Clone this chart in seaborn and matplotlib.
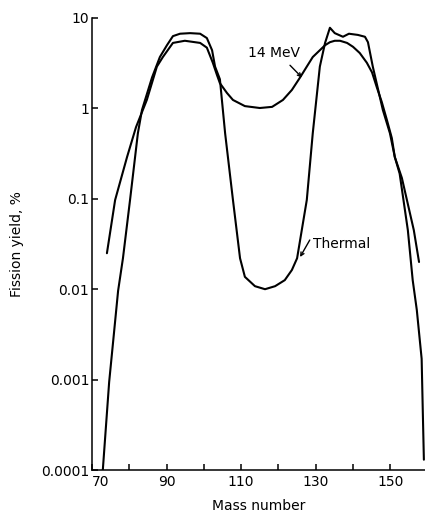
import numpy as np
import pandas as pd
import matplotlib
matplotlib.use("Agg")
import matplotlib.pyplot as plt
import seaborn as sns
from matplotlib.ticker import FixedLocator, FixedFormatter, NullLocator

# ---- data ----
thermal_mass = [72.9, 74.6, 75.9, 77.0, 78.3, 80.2, 82.3, 83.4, 86.1, 88.2, 90.1, 91.7,
                93.6, 96.3, 99.0, 100.8, 102.2, 103.0, 104.3, 105.7, 107.8, 109.7, 111.0,
                113.7, 116.4, 119.1, 121.7, 123.6, 125.0, 127.6, 129.2, 131.1, 132.5,
                133.8, 135.1, 137.3, 138.9, 141.3, 143.2, 144.0, 145.3, 148.0, 149.9,
                151.2, 152.5, 154.7, 156.0, 157.1, 158.4, 158.7, 159.0]
thermal_yield = [0.0001, 0.00094, 0.0033, 0.0096, 0.022, 0.097, 0.53, 0.96, 2.2, 3.7, 5.0, 6.3,
                 6.7, 6.8, 6.7, 6.0, 4.4, 2.9, 2.1, 0.53, 0.097, 0.022, 0.0137,
                 0.0108, 0.0100, 0.0108, 0.0126, 0.0163, 0.022, 0.097, 0.53, 2.9, 5.3,
                 7.8, 6.8, 6.2, 6.7, 6.5, 6.2, 5.4, 2.9, 0.96, 0.53,
                 0.29, 0.19, 0.045, 0.0126, 0.0059, 0.0017, 0.00046, 0.00013]

mev14_mass = [74.0, 76.2, 79.4, 81.8, 84.7, 87.4, 89.0, 91.7, 94.9, 99.0, 100.8, 102.4,
              103.5, 104.3, 106.2, 107.8, 111.0, 115.0, 118.3, 121.2, 123.6, 125.8,
              127.6, 129.2, 131.1, 132.5, 133.8, 135.1, 136.5, 138.4, 140.0, 141.8,
              143.7, 145.1, 146.4, 147.7, 149.1, 150.4, 151.2, 153.1, 156.3, 157.7]
mev14_yield = [0.025, 0.097, 0.29, 0.62, 1.24, 2.9, 3.7, 5.3, 5.6, 5.3, 4.7, 3.2,
               2.35, 1.9, 1.48, 1.24, 1.06, 1.01, 1.04, 1.24, 1.6, 2.2,
               2.9, 3.7, 4.4, 5.0, 5.4, 5.6, 5.6, 5.3, 4.8, 4.1,
               3.2, 2.5, 1.7, 1.18, 0.74, 0.47, 0.29, 0.17, 0.045, 0.020]

x_ticks = [70, 80, 90, 100, 110, 120, 130, 140, 150]
x_tick_labels = ["70", "", "90", "", "110", "", "130", "", "150"]
y_ticks = [0.0001, 0.001, 0.01, 0.1, 1, 10]
y_tick_labels = ["0.0001", "0.001", "0.01", "0.1", "1", "10"]

df = pd.concat([
    pd.DataFrame({"mass": thermal_mass, "yield": thermal_yield, "series": "Thermal"}),
    pd.DataFrame({"mass": mev14_mass, "yield": mev14_yield, "series": "14 MeV"}),
], ignore_index=True)

sns.set_theme(style="ticks")
plt.rcParams["font.family"] = ["DejaVu Sans"]

fig = plt.figure(figsize=(4.25, 5.18), dpi=100)
ax = fig.add_axes([92 / 425, 48 / 518, 333 / 425, 452 / 518])

sns.lineplot(data=df, x="mass", y="yield", hue="series",
             palette={"Thermal": "black", "14 MeV": "black"},
             estimator=None, sort=False, legend=False, linewidth=1.5, ax=ax)
for ln in ax.get_lines():
    ln.set_solid_joinstyle("round")

ax.set_yscale("log")
ax.set_xlim(70, 159.3)
ax.set_ylim(1e-4, 10)

ax.xaxis.set_major_locator(FixedLocator(x_ticks))
ax.xaxis.set_major_formatter(FixedFormatter(x_tick_labels))
ax.yaxis.set_major_locator(FixedLocator(y_ticks))
ax.yaxis.set_major_formatter(FixedFormatter(y_tick_labels))
ax.yaxis.set_minor_locator(NullLocator())
ax.xaxis.set_minor_locator(NullLocator())

ax.tick_params(axis="both", direction="in", length=4, width=1.1, colors="black",
               labelsize=10, labelcolor="black")
ax.tick_params(axis="y", pad=2)
for s in ["top", "right"]:
    ax.spines[s].set_visible(False)
for s in ["left", "bottom"]:
    ax.spines[s].set_color("black")
    ax.spines[s].set_linewidth(1.1)

for lbl in ax.get_xticklabels():
    if lbl.get_text() == "70":
        lbl.set_horizontalalignment("left")

ax.set_xlabel("Mass number", fontsize=10, color="black", labelpad=7)
ax.set_ylabel("Fission yield, %", fontsize=10, color="black", labelpad=12)

ax.text(118.7, 4.1, "14 MeV", ha="center", va="center", fontsize=10, color="black")
ax.annotate("", xy=(126.3, 2.2), xytext=(123.1, 3.0),
            arrowprops=dict(arrowstyle="->", color="black", lw=1.0, mutation_scale=6,
                            shrinkA=0, shrinkB=0))
ax.text(129.2, 0.032, "Thermal", ha="left", va="center", fontsize=10, color="black")
ax.annotate("", xy=(125.8, 0.0227), xytext=(128.4, 0.035),
            arrowprops=dict(arrowstyle="->", color="black", lw=1.0, mutation_scale=6,
                            shrinkA=0, shrinkB=0))

fig.savefig("out.png", dpi=100)
